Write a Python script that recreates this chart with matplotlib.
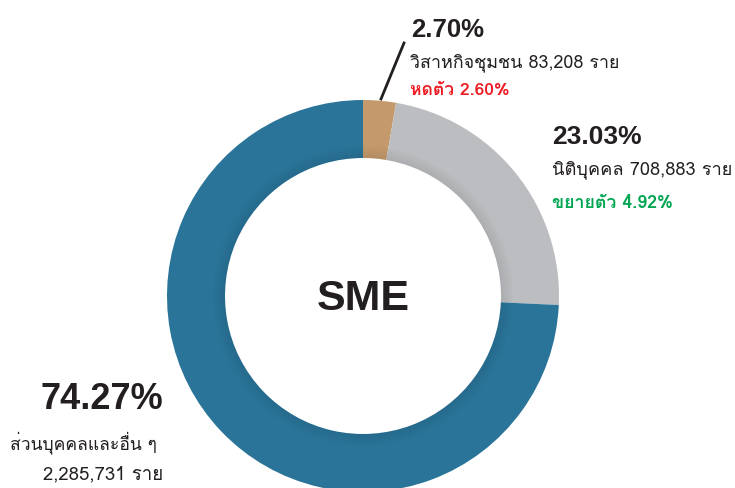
import matplotlib
matplotlib.use("Agg")
import matplotlib.pyplot as plt
from matplotlib import font_manager
from matplotlib.ft2font import FT2Font
from matplotlib.patches import Wedge

# data
labels = ['วิสาหกิจชุมชน', 'นิติบุคคล', 'ส่วนบุคคลและอื่น ๆ']
shares = [2.70, 23.03, 74.27]
counts = ['83,208', '708,883', '2,285,731']
changes = ['หดตัว 2.60%', 'ขยายตัว 4.92%', None]
colors = ['#c49a6c', '#bcbdc0', '#2a7499']
center_text = 'SME'

# find a font that has Thai glyphs
thai_font = None
for f in font_manager.fontManager.ttflist:
    try:
        if 0x0E01 in FT2Font(f.fname).get_charmap():
            thai_font = f.name
            break
    except Exception:
        pass
fam = ([thai_font] if thai_font else []) + ['Liberation Sans', 'DejaVu Sans']
num_fam = ['Liberation Sans', 'DejaVu Sans']

W, H = 735, 489
fig = plt.figure(figsize=(W / 100, H / 100), dpi=100)
ax = fig.add_axes([0, 0, 1, 1])

cx, cy = 363, H - 297
R, r = 196, 138
ax.pie(shares, colors=colors, startangle=90, counterclock=False,
       radius=R, center=(cx, cy),
       wedgeprops=dict(width=R - r, linewidth=0))

# soft inner shadow
n = 10
for i in range(n):
    ax.add_patch(Wedge((cx, cy), r + (i + 1) * 1.2, 0, 360, width=1.2,
                       facecolor='black', alpha=0.08 * (1 - i / n), linewidth=0))

ax.set_xlim(0, W)
ax.set_ylim(0, H)
ax.set_aspect('equal')
ax.axis('off')

dark = '#231f20'
def y(v):
    return H - v

ax.text(cx, y(310), center_text, ha='center', va='baseline', fontsize=31,
        fontweight='bold', color=dark, family=num_fam)

# small segment
ax.plot([381, 404], [y(100), y(44)], color=dark, lw=2)
ax.text(411, y(37), f'{shares[0]:.2f}%', fontsize=18.5, fontweight='bold',
        color=dark, va='baseline', family=num_fam)
ax.text(410, y(67), f'{labels[0]} {counts[0]} ราย', fontsize=12.9,
        color=dark, va='baseline', family=fam)
ax.text(410, y(95), changes[0], fontsize=12.6, fontweight='bold',
        color='#ed1c24', va='baseline', family=fam)

# grey segment
ax.text(552, y(144), f'{shares[1]:.2f}%', fontsize=19, fontweight='bold',
        color=dark, va='baseline', family=num_fam)
ax.text(552, y(174), f'{labels[1]} {counts[1]} ราย', fontsize=13.1,
        color=dark, va='baseline', family=fam)
ax.text(552, y(208), changes[1], fontsize=12.8, fontweight='bold',
        color='#00a651', va='baseline', family=fam)

# blue segment
ax.text(163, y(409), f'{shares[2]:.2f}%', fontsize=26, fontweight='bold',
        color=dark, va='baseline', ha='right', family=num_fam)
ax.text(10, y(449), labels[2], fontsize=12.6,
        color=dark, va='baseline', family=fam)
ax.text(163, y(479), f'{counts[2]} ราย', fontsize=13.4,
        color=dark, va='baseline', ha='right', family=fam)

fig.savefig('out.png', dpi=100)
